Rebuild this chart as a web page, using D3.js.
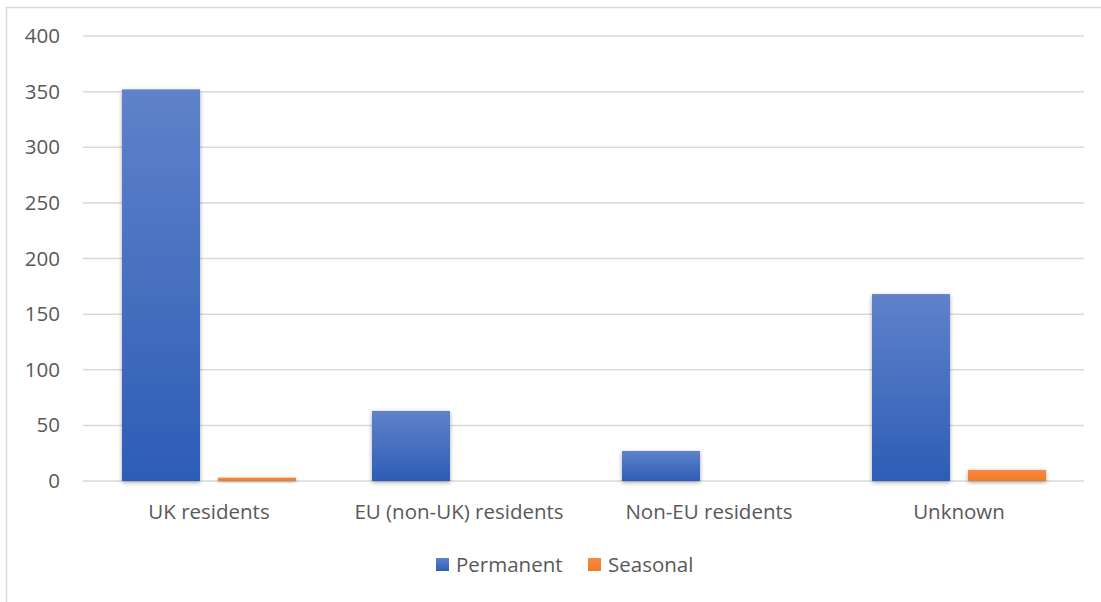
<!DOCTYPE html>
<html>
<head>
<meta charset="utf-8">
<script src="https://cdn.jsdelivr.net/npm/d3@7"></script>
<style>
  html, body { margin: 0; padding: 0; background: #fff; }
  svg { display: block; }
  text { font-family: "Open Sans", "Liberation Sans", sans-serif; fill: #595959; }
</style>
</head>
<body>
<svg id="chart" width="1101" height="602"></svg>
<script>
// Residents by category, split into permanent and seasonal
const categories = ["UK residents", "EU (non-UK) residents", "Non-EU residents", "Unknown"];
const seriesNames = ["Permanent", "Seasonal"];
const permanent = [352, 63, 27, 168];
const seasonal = [3, 0, 0, 10];
const yTicks = [0, 50, 100, 150, 200, 250, 300, 350, 400];

const W = 1101, H = 602;
const margin = { left: 84, right: 17, top: 36, bottom: 121 };
const fontSize = 20.5;
const svg = d3.select("#chart");

const defs = svg.append("defs");
const gradBlue = defs.append("linearGradient").attr("id", "gBlue").attr("x1", 0).attr("y1", 0).attr("x2", 0).attr("y2", 1);
gradBlue.append("stop").attr("offset", "0%").attr("stop-color", "#5f82ca");
gradBlue.append("stop").attr("offset", "100%").attr("stop-color", "#2d5db6");
const gradOrange = defs.append("linearGradient").attr("id", "gOrange").attr("x1", 0).attr("y1", 0).attr("x2", 0).attr("y2", 1);
gradOrange.append("stop").attr("offset", "0%").attr("stop-color", "#f68b44");
gradOrange.append("stop").attr("offset", "100%").attr("stop-color", "#ef7a26");
const shadow = defs.append("filter").attr("id", "shadow").attr("x", "-30%").attr("y", "-30%").attr("width", "160%").attr("height", "160%");
shadow.append("feDropShadow").attr("dx", 0).attr("dy", 1.5).attr("stdDeviation", 2.2)
  .attr("flood-color", "#000").attr("flood-opacity", 0.35);

// chart area frame
svg.append("rect").attr("x", 6.5).attr("y", 7.5).attr("width", W + 10).attr("height", H + 10)
  .attr("fill", "#fff").attr("stroke", "#d9d9d9").attr("stroke-width", 1.5);

const x0 = d3.scaleBand().domain(categories).range([margin.left, W - margin.right]).paddingInner(0).paddingOuter(0);
const x1 = d3.scaleBand().domain(seriesNames).range([0, x0.bandwidth()]).paddingInner(0.1875).paddingOuter(0.396);
const y = d3.scaleLinear().domain([0, 400]).range([H - margin.bottom, margin.top]);

// gridlines
svg.append("g").selectAll("line").data(yTicks).join("line")
  .attr("x1", margin.left - 1).attr("x2", W - margin.right)
  .attr("y1", d => y(d)).attr("y2", d => y(d))
  .attr("stroke", "#d9d9d9").attr("stroke-width", 1.5);

// y axis labels
const yAxis = d3.axisLeft(y).tickValues(yTicks).tickSize(0).tickPadding(0);
const yg = svg.append("g").attr("transform", `translate(60,0)`).call(yAxis);
yg.select(".domain").remove();
yg.selectAll("text").attr("font-size", fontSize).style("fill", "#595959")
  .style("font-family", '"Open Sans", "Liberation Sans", sans-serif');

// bars
const values = { Permanent: permanent, Seasonal: seasonal };
const fills = { Permanent: "url(#gBlue)", Seasonal: "url(#gOrange)" };
const groups = svg.append("g").selectAll("g").data(categories).join("g")
  .attr("transform", d => `translate(${x0(d)},0)`);
groups.selectAll("rect")
  .data((c, i) => seriesNames.map(s => ({ s, v: values[s][i] })).filter(d => d.v > 0))
  .join("rect")
  .attr("x", d => x1(d.s))
  .attr("width", x1.bandwidth())
  .attr("y", d => y(d.v))
  .attr("height", d => y(0) - y(d.v))
  .attr("fill", d => fills[d.s])
  .attr("filter", "url(#shadow)");

// x axis labels
const xAxis = d3.axisBottom(x0).tickSize(0).tickPadding(0);
const xg = svg.append("g").attr("transform", `translate(0,${y(0) + 38})`).call(xAxis);
xg.select(".domain").remove();
xg.selectAll("text").attr("font-size", fontSize).attr("dy", 0).style("fill", "#595959")
  .style("font-family", '"Open Sans", "Liberation Sans", sans-serif');

// legend
const legendItems = [
  { name: "Permanent", fill: "url(#gBlue)", x: 436 },
  { name: "Seasonal", fill: "url(#gOrange)", x: 588 }
];
const lg = svg.append("g").selectAll("g").data(legendItems).join("g")
  .attr("transform", d => `translate(${d.x},558)`);
lg.append("rect").attr("width", 13).attr("height", 13).attr("fill", d => d.fill);
lg.append("text").attr("x", 20).attr("y", 14).attr("font-size", fontSize).text(d => d.name);
</script>
</body>
</html>
